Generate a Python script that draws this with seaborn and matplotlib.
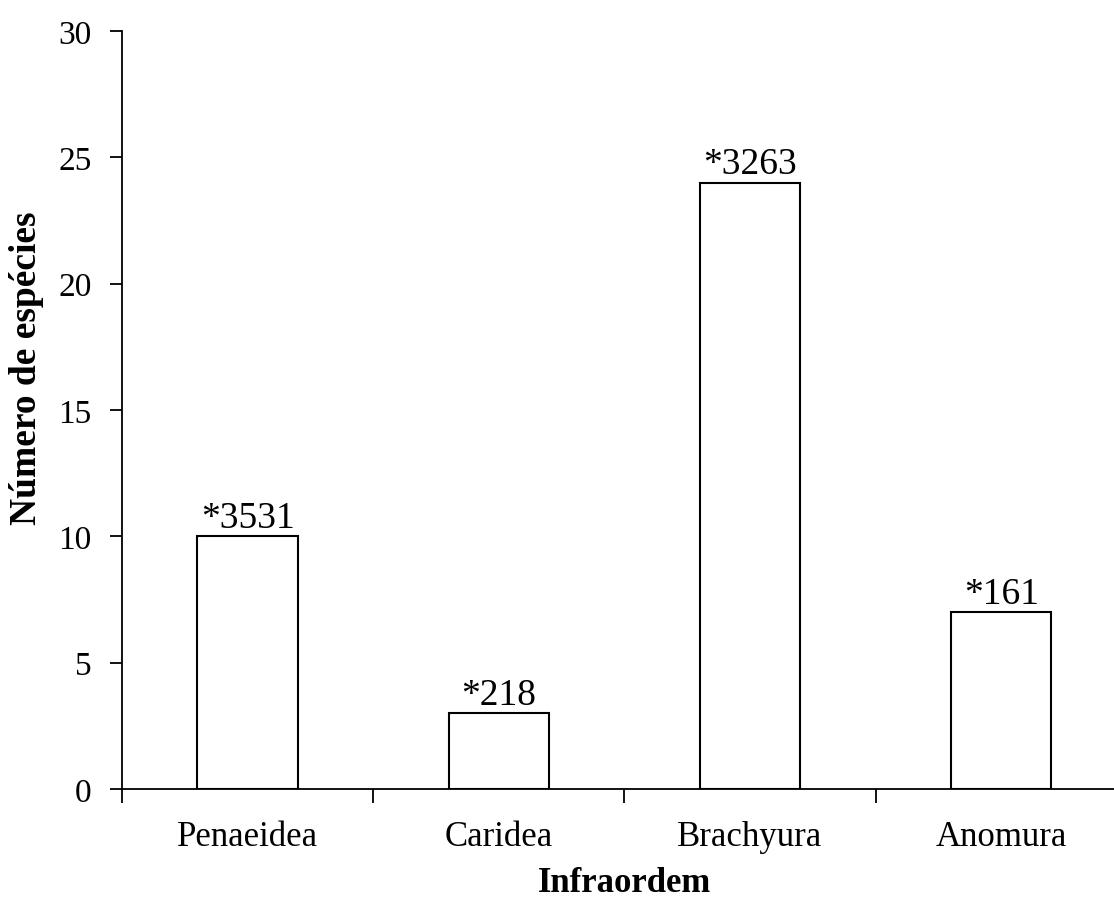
import matplotlib
matplotlib.use("Agg")
import matplotlib.pyplot as plt
import seaborn as sns
import pandas as pd
import numpy as np

categories = ["Penaeidea", "Caridea", "Brachyura", "Anomura"]
values = [10, 3, 24, 7]
labels = ["*3531", "*218", "*3263", "*161"]

sns.set_theme(style="white")
plt.rcParams['font.family'] = ['Liberation Serif', 'DejaVu Serif']
plt.rcParams['text.color'] = 'black'
plt.rcParams['axes.labelcolor'] = 'black'
plt.rcParams['xtick.color'] = 'black'
plt.rcParams['ytick.color'] = 'black'

df = pd.DataFrame({"cat": categories, "val": values})

fig = plt.figure(figsize=(11.14, 9.03), dpi=100)
ax = fig.add_axes([0.1095, 0.1251, 0.902, 0.8394])

sns.barplot(data=df, x="cat", y="val", ax=ax, color="white", edgecolor="black",
            linewidth=1.5, width=0.4, saturation=1)

ax.set_xlim(-0.5, 3.5)
ax.set_ylim(0, 30)
ax.set_yticks([0, 5, 10, 15, 20, 25, 30])

for i, (v, lab) in enumerate(zip(values, labels)):
    ax.text(i, v + 0.05, lab, ha="center", va="bottom", fontsize=27, color="black")

sns.despine(ax=ax, right=True, top=True)
for s in ["left", "bottom"]:
    ax.spines[s].set_color("black")
    ax.spines[s].set_linewidth(1.3)

ax.tick_params(axis="y", which="major", length=9, width=1.3, color="black",
               labelsize=24, pad=13, left=True, direction="out", labelcolor="black")
ax.tick_params(axis="x", which="major", length=0, labelsize=25, pad=22, labelcolor="black")
ax.set_xticks([-0.5, 0.5, 1.5, 2.5], minor=True)
ax.tick_params(axis="x", which="minor", length=10, width=1.3, color="black",
               bottom=True, direction="out")

ax.set_xlabel("Infraordem", fontsize=25, fontweight="bold", labelpad=10, color="black")
ax.set_ylabel("Número de espécies", fontsize=27, fontweight="bold", color="black",
              va="center")
ax.yaxis.set_label_coords(-0.0955, 0.556)

fig.savefig("out.png", dpi=100)
